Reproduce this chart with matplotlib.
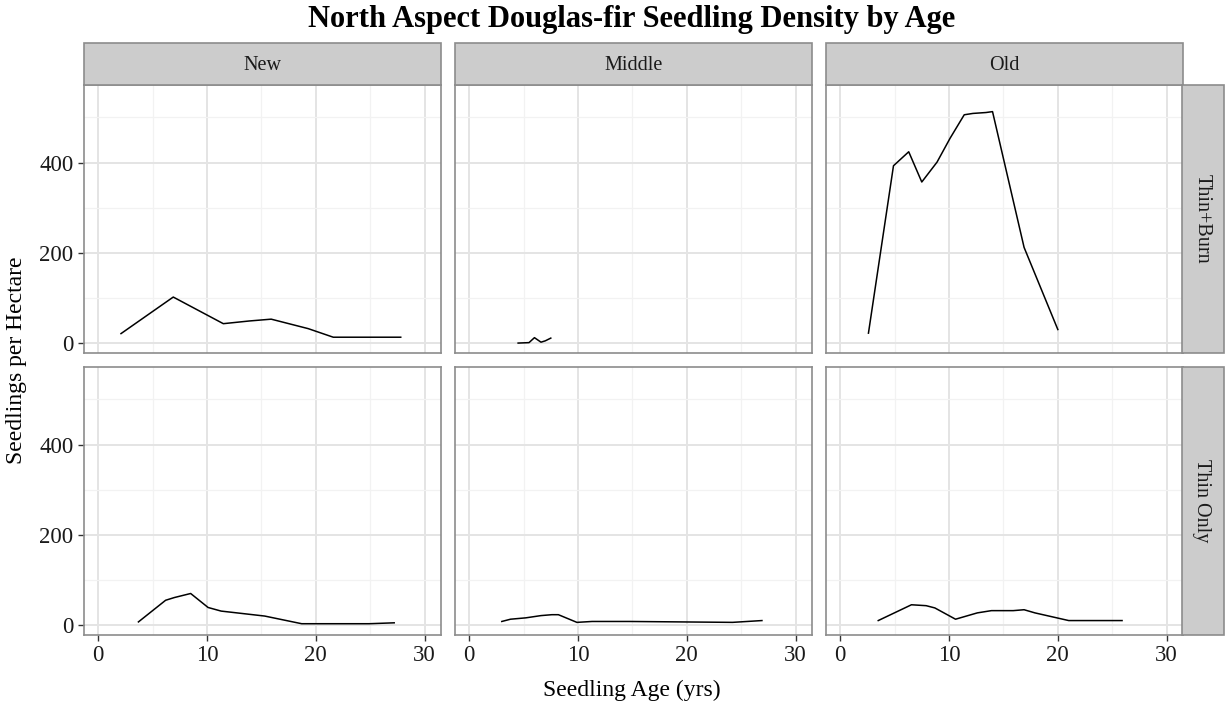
import matplotlib
matplotlib.use("Agg")
import matplotlib.pyplot as plt
from matplotlib.patches import Rectangle

plt.rcParams['font.family'] = ['Liberation Serif', 'DejaVu Serif']

# columns / rows of the facet grid
ages_cols = ["New", "Middle", "Old"]
treatments = ["Thin+Burn", "Thin Only"]

# Thin+Burn
new_tb_age = [2.1, 6.9, 11.5, 13.9, 15.9, 19.3, 21.6, 27.8]
new_tb_den = [21, 102, 43, 49, 53, 32, 13, 13]
mid_tb_age = [4.5, 5.5, 6.0, 6.6, 7.0, 7.5]
mid_tb_den = [0, 1, 12, 2, 5, 11]
old_tb_age = [2.6, 4.9, 6.3, 7.5, 8.9, 10.1, 11.4, 12.2, 13.4, 14.0, 16.9, 20.0]
old_tb_den = [22, 393, 424, 357, 401, 454, 506, 509, 511, 513, 212, 30]

# Thin Only
new_to_age = [3.7, 6.2, 7.0, 8.5, 10.1, 11.3, 15.3, 18.7, 24.9, 27.2]
new_to_den = [7, 55, 61, 70, 39, 31, 20, 3, 3, 5]
mid_to_age = [3.0, 3.8, 5.2, 6.6, 7.6, 8.2, 9.9, 11.3, 14.7, 24.2, 26.9]
mid_to_den = [8, 13, 16, 21, 23, 23, 6, 8, 8, 6, 10]
old_to_age = [3.5, 6.55, 7.9, 8.7, 10.6, 12.6, 13.9, 15.9, 16.9, 17.9, 21.0, 25.9]
old_to_den = [10, 45, 43, 38, 13, 27, 32, 32, 34, 27, 10, 10]

series = {
    ("Thin+Burn", "New"): (new_tb_age, new_tb_den),
    ("Thin+Burn", "Middle"): (mid_tb_age, mid_tb_den),
    ("Thin+Burn", "Old"): (old_tb_age, old_tb_den),
    ("Thin Only", "New"): (new_to_age, new_to_den),
    ("Thin Only", "Middle"): (mid_to_age, mid_to_den),
    ("Thin Only", "Old"): (old_to_age, old_to_den),
}

W, H = 1225, 706
fig = plt.figure(figsize=(W / 100, H / 100), dpi=100)

col_x = [84, 455, 826]
pw = 357
row_y = [85, 367]
ph = 268
border = '#8c8c8c'
strip_col = '#cccccc'

def fx(px):
    return px / W

def fy(py):
    return 1 - py / H

for r, trt in enumerate(treatments):
    for c, age in enumerate(ages_cols):
        ax = fig.add_axes([fx(col_x[c]), fy(row_y[r] + ph), pw / W, ph / H])
        x, y = series[(trt, age)]
        ax.plot(x, y, color='black', lw=1.1, zorder=3)
        ax.set_xlim(-1.3, 31.5)
        ax.set_ylim(-22, 572)
        ax.set_xticks([0, 10, 20, 30])
        ax.set_xticks([5, 15, 25], minor=True)
        ax.set_yticks([0, 200, 400])
        ax.set_yticks([100, 300, 500], minor=True)
        ax.grid(which='major', color='#e4e4e4', lw=1.4)
        ax.grid(which='minor', color='#f2f2f2', lw=0.9)
        ax.set_axisbelow(True)
        for s in ax.spines.values():
            s.set_color(border)
            s.set_linewidth(1.2)
        ax.tick_params(which='minor', length=0)
        ax.tick_params(which='major', length=4.5, color='#333333', labelsize=16.5,
                       labelcolor='#1a1a1a', width=1, pad=3)
        if c != 0:
            ax.tick_params(axis='y', left=False, labelleft=False)
        if r != len(treatments) - 1:
            ax.tick_params(axis='x', bottom=False, labelbottom=False)

        # top strips
        if r == 0:
            fig.patches.append(Rectangle((fx(col_x[c]), fy(85)), pw / W, 42 / H,
                                         transform=fig.transFigure, facecolor=strip_col,
                                         edgecolor=border, lw=1.2))
            fig.text(fx(col_x[c] + pw / 2), fy(65), age, ha='center', va='center',
                     fontsize=14.5, color='#1a1a1a')
        # right strips
        if c == len(ages_cols) - 1:
            fig.patches.append(Rectangle((fx(1182), fy(row_y[r] + ph)), 42 / W, ph / H,
                                         transform=fig.transFigure, facecolor=strip_col,
                                         edgecolor=border, lw=1.2))
            fig.text(fx(1202), fy(row_y[r] + ph / 2), trt, ha='center', va='center',
                     rotation=-90, fontsize=14.5, color='#1a1a1a')

fig.text(fx(632), fy(19), "North Aspect Douglas-fir Seedling Density by Age",
         ha='center', va='center', fontsize=22, fontweight='bold')
fig.text(fx(632), fy(690), "Seedling Age (yrs)", ha='center', va='center', fontsize=17)
fig.text(fx(17), fy(360), "Seedlings per Hectare", ha='center', va='center',
         rotation=90, fontsize=17)

fig.savefig("out.png", dpi=100)
